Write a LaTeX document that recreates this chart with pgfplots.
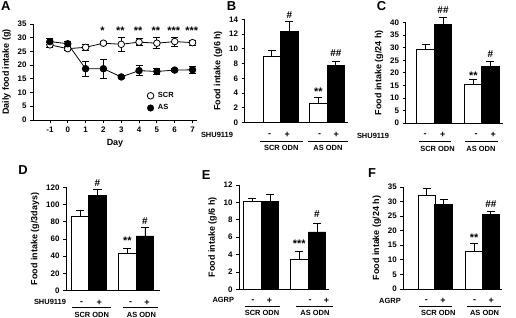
\documentclass[border=0pt]{standalone}
\usepackage{fontspec}
\setmainfont{Liberation Sans}
\usepackage{pgfplots}
\pgfplotsset{compat=1.18}
\newcommand{\af}{\bfseries\fontsize{10}{11}\selectfont}
\newcommand{\stf}{\bfseries\fontsize{11}{12}\selectfont}
\newcommand{\gf}{\bfseries\fontsize{7.5}{8}\selectfont}
\newcommand{\pf}{\bfseries\fontsize{9}{10}\selectfont}
\pgfplotsset{
  base/.style={
    scale only axis, axis lines=left, axis line style={-, line width=0.8pt},
    every tick/.style={black, line width=0.8pt},
    tick align=outside, major tick length=3bp,
    ymin=0, clip=false,
    tick label style={font=\bfseries\fontsize{8}{9}\selectfont},
    label style={font=\bfseries\fontsize{9}{10}\selectfont},
    /pgf/number format/assume math mode=true,
  },
  barax/.style={base, xmin=0, xtick=\empty},
  wbar/.style={ybar, bar width=17.5, bar shift=0pt, fill=white, draw=black, line width=0.8pt,
    error bars/.cd, y dir=plus, y explicit, error bar style={line width=0.8pt, black},
    error mark options={rotate=90, mark size=4bp, line width=0.8pt, black}},
  bbar/.style={ybar, bar width=17.5, bar shift=0pt, fill=black, draw=black, line width=0.8pt,
    error bars/.cd, y dir=plus, y explicit, error bar style={line width=0.8pt, black},
    error mark options={rotate=90, mark size=4bp, line width=0.8pt, black}},
}
\begin{document}
\begin{tikzpicture}
\useasboundingbox (0,0) rectangle (516bp,-318bp);
% ---------------- A
\begin{axis}[base, at={(33bp,-120bp)}, anchor=south west, width=164bp, height=96bp,
  xmin=-1.95, xmax=7.25, ymax=35, xtick={-1,0,...,7}, ytick={0,5,...,35},
  xlabel={Day}, ylabel={Daily food intake (g)},
  legend style={draw=none, fill=none, at={(axis cs:4.45,6.6)}, anchor=west, inner sep=0pt,
    font=\gf, row sep=1.5bp, cells={anchor=west}},
  legend image code/.code={\draw[#1] plot coordinates {(0bp,0bp)};},
  legend cell align=left]
\addlegendimage{only marks, mark=*, mark size=3.3bp, mark options={fill=white, draw=black, line width=0.8pt}}
\addlegendimage{only marks, mark=*, mark size=3.3bp, mark options={fill=black, draw=black}}
\addplot[forget plot, black, line width=0.8pt, mark=*, mark size=3.3bp, mark options={fill=white, draw=black},
  error bars/.cd, y dir=both, y explicit, error bar style={line width=0.8pt},
  error mark options={rotate=90, mark size=3.5bp, line width=0.8pt}] coordinates {
  (-1,27.4) +- (0,1.0) (0,26.0) +- (0,0.6) (1,26.5) +- (0,1.0) (2,28.0) +- (0,0.5)
  (3,27.6) +- (0,2.6) (4,28.4) +- (0,1.2) (5,28.0) +- (0,2.0) (6,28.6) +- (0,1.6) (7,28.2) +- (0,1.0)};
\addplot[forget plot, black, line width=0.8pt, mark=*, mark size=3.3bp, mark options={fill=black, draw=black},
  error bars/.cd, y dir=both, y explicit, error bar style={line width=0.8pt},
  error mark options={rotate=90, mark size=3.5bp, line width=0.8pt}] coordinates {
  (-1,28.6) +- (0,1.2) (0,27.8) +- (0,0.8) (1,18.7) +- (0,2.7) (2,18.7) +- (0,3.4)
  (3,15.7) +- (0,0.5) (4,18.0) +- (0,1.8) (5,17.7) +- (0,1.1) (6,18.2) +- (0,0.6) (7,18.3) +- (0,1.3)};
\addlegendentry{\hspace{2bp}SCR}
\addlegendentry{\hspace{2bp}AS}
\node[font=\stf] at (axis cs:1.95,32.6) {*};
\node[font=\stf] at (axis cs:2.95,32.6) {**};
\node[font=\stf] at (axis cs:3.95,32.6) {**};
\node[font=\stf] at (axis cs:4.95,32.6) {**};
\node[font=\stf] at (axis cs:5.95,32.6) {***};
\node[font=\stf] at (axis cs:6.95,32.6) {***};
\end{axis}
% ---------------- B
\begin{axis}[barax, at={(244.5bp,-122.5bp)}, anchor=south west, width=103bp, height=103.2bp,
  xmax=103, ymax=14, ytick={0,2,...,14}, ylabel={Food intake (g/6 h)}]
\addplot[wbar] coordinates {(27.3,8.9) +- (0,0.85) (73.8,2.6) +- (0,0.8)};
\addplot[bbar] coordinates {(44.8,12.4) +- (0,1.3) (91.3,7.7) +- (0,0.6)};
\node[font=\af] at (axis cs:44.8,14.6) {\#};
\node[font=\af] at (axis cs:91.3,9.4) {\#\#};
\node[font=\stf] at (axis cs:73.8,4.2) {**};
\node[font=\gf] at (axis cs:-27.5,0) [yshift=-12.5bp] {SHU9119};
\node[font=\pf] at (axis cs:25.2,0) [yshift=-12.5bp] {-};
\node[font=\pf] at (axis cs:42.8,0) [yshift=-12.5bp] {+};
\node[font=\pf] at (axis cs:75.2,0) [yshift=-12.5bp] {-};
\node[font=\pf] at (axis cs:91.8,0) [yshift=-12.5bp] {+};
\draw[line width=0.6pt] ([yshift=-19.2bp]axis cs:15.2,0) -- ([yshift=-19.2bp]axis cs:58.5,0);
\draw[line width=0.6pt] ([yshift=-19.2bp]axis cs:63.5,0) -- ([yshift=-19.2bp]axis cs:103.5,0);
\node[font=\gf] at (axis cs:36.8,0) [yshift=-25.5bp] {SCR ODN};
\node[font=\gf] at (axis cs:83.5,0) [yshift=-25.5bp] {AS ODN};
\end{axis}
% ---------------- C
\begin{axis}[barax, at={(405.5bp,-123bp)}, anchor=south west, width=97.5bp, height=100.3bp,
  xmax=97.5, ymax=40, ytick={0,5,...,40}, ylabel={Food intake (g/24 h)}]
\addplot[wbar] coordinates {(20,29.5) +- (0,2.0) (67.8,15.2) +- (0,2.0)};
\addplot[bbar] coordinates {(37.5,39.3) +- (0,2.7) (84.8,22.6) +- (0,2.1)};
\node[font=\af] at (axis cs:37.5,45) {\#\#};
\node[font=\af] at (axis cs:84.8,27.5) {\#};
\node[font=\stf] at (axis cs:67.8,19) {**};
\node[font=\gf] at (axis cs:-32.5,0) [yshift=-13bp] {SHU9119};
\node[font=\pf] at (axis cs:19.5,0) [yshift=-12bp] {-};
\node[font=\pf] at (axis cs:37.2,0) [yshift=-12bp] {+};
\node[font=\pf] at (axis cs:70.5,0) [yshift=-12bp] {-};
\node[font=\pf] at (axis cs:87.8,0) [yshift=-12bp] {+};
\draw[line width=0.6pt] ([yshift=-18.7bp]axis cs:13.5,0) -- ([yshift=-18.7bp]axis cs:45.5,0);
\draw[line width=0.6pt] ([yshift=-18.7bp]axis cs:59.5,0) -- ([yshift=-18.7bp]axis cs:92.5,0);
\node[font=\gf] at (axis cs:32,0) [yshift=-26bp] {SCR ODN};
\node[font=\gf] at (axis cs:75.5,0) [yshift=-26bp] {AS ODN};
\end{axis}
% ---------------- D
\begin{axis}[barax, at={(66bp,-290.7bp)}, anchor=south west, width=94bp, height=103.4bp,
  xmax=94, ymax=120, ytick={0,20,...,120}, ylabel={Food intake (g/3days)}]
\addplot[wbar] coordinates {(14,86) +- (0,7.7) (61.5,43.7) +- (0,5.5)};
\addplot[bbar] coordinates {(31.5,110.3) +- (0,7.4) (79,63.5) +- (0,9.7)};
\node[font=\af] at (axis cs:31.5,125.4) {\#};
\node[font=\af] at (axis cs:79,81.3) {\#};
\node[font=\stf] at (axis cs:61.5,57.5) {**};
\node[font=\gf] at (axis cs:-16,0) [yshift=-11bp] {SHU9119};
\node[font=\pf] at (axis cs:15.7,0) [yshift=-12bp] {-};
\node[font=\pf] at (axis cs:33.3,0) [yshift=-12bp] {+};
\node[font=\pf] at (axis cs:64.7,0) [yshift=-12bp] {-};
\node[font=\pf] at (axis cs:81,0) [yshift=-12bp] {+};
\draw[line width=0.6pt] ([yshift=-16.6bp]axis cs:6,0) -- ([yshift=-16.6bp]axis cs:45,0);
\draw[line width=0.6pt] ([yshift=-16.6bp]axis cs:57.3,0) -- ([yshift=-16.6bp]axis cs:92.3,0);
\node[font=\gf] at (axis cs:25.8,0) [yshift=-24.3bp] {SCR ODN};
\node[font=\gf] at (axis cs:75.5,0) [yshift=-24.3bp] {AS ODN};
\end{axis}
% ---------------- E
\begin{axis}[barax, at={(239bp,-289.3bp)}, anchor=south west, width=90bp, height=104.3bp,
  xmax=90, ymax=12, ytick={0,2,...,12}, ylabel={Food intake (g/6 h)}]
\addplot[wbar] coordinates {(13.3,10.1) +- (0,0.4) (60.3,3.4) +- (0,1.0)};
\addplot[bbar] coordinates {(31,10.1) +- (0,0.8) (78,6.6) +- (0,1.0)};
\node[font=\af] at (axis cs:78,8.6) {\#};
\node[font=\stf] at (axis cs:60.3,5.3) {***};
\node[font=\gf] at (axis cs:-15.7,0) [yshift=-11bp] {AGRP};
\node[font=\pf] at (axis cs:13.8,0) [yshift=-11.4bp] {-};
\node[font=\pf] at (axis cs:30.5,0) [yshift=-11.4bp] {+};
\node[font=\pf] at (axis cs:71,0) [yshift=-11.4bp] {-};
\node[font=\pf] at (axis cs:87.5,0) [yshift=-11.4bp] {+};
\draw[line width=0.6pt] ([yshift=-17.4bp]axis cs:5.5,0) -- ([yshift=-17.4bp]axis cs:40.5,0);
\draw[line width=0.6pt] ([yshift=-17.4bp]axis cs:57,0) -- ([yshift=-17.4bp]axis cs:94,0);
\node[font=\gf] at (axis cs:23,0) [yshift=-24bp] {SCR ODN};
\node[font=\gf] at (axis cs:76,0) [yshift=-24bp] {AS ODN};
\end{axis}
% ---------------- F
\begin{axis}[barax, at={(403.3bp,-289bp)}, anchor=south west, width=98.5bp, height=102bp,
  xmax=98.5, ymax=35, ytick={0,5,...,35}, ylabel={Food intake (g/24 h)}]
\addplot[wbar] coordinates {(23.5,32.2) +- (0,2.2) (70.8,12.9) +- (0,2.7)};
\addplot[bbar] coordinates {(40.3,29.0) +- (0,1.7) (87.5,25.5) +- (0,1.3)};
\node[font=\af] at (axis cs:87.5,29.3) {\#\#};
\node[font=\stf] at (axis cs:70.8,17.6) {**};
\node[font=\gf] at (axis cs:-13.3,0) [yshift=-11.7bp] {AGRP};
\node[font=\pf] at (axis cs:23,0) [yshift=-11.7bp] {-};
\node[font=\pf] at (axis cs:39.7,0) [yshift=-11.7bp] {+};
\node[font=\pf] at (axis cs:71.4,0) [yshift=-11.7bp] {-};
\node[font=\pf] at (axis cs:88,0) [yshift=-11.7bp] {+};
\draw[line width=0.6pt] ([yshift=-17bp]axis cs:15.7,0) -- ([yshift=-17bp]axis cs:49,0);
\draw[line width=0.6pt] ([yshift=-17bp]axis cs:64,0) -- ([yshift=-17bp]axis cs:97.3,0);
\node[font=\gf] at (axis cs:35,0) [yshift=-24.3bp] {SCR ODN};
\node[font=\gf] at (axis cs:81.3,0) [yshift=-24.3bp] {AS ODN};
\end{axis}
% panel letters
\begin{scope}[every node/.style={anchor=north west, inner sep=0pt, font=\bfseries\fontsize{13}{13}\selectfont}]
\node at (1bp,-1bp) {A};
\node at (226.7bp,-1bp) {B};
\node at (376.7bp,-1.7bp) {C};
\node at (18.3bp,-165bp) {D};
\node at (201.7bp,-170bp) {E};
\node at (368bp,-168.3bp) {F};
\end{scope}
\end{tikzpicture}
\end{document}
